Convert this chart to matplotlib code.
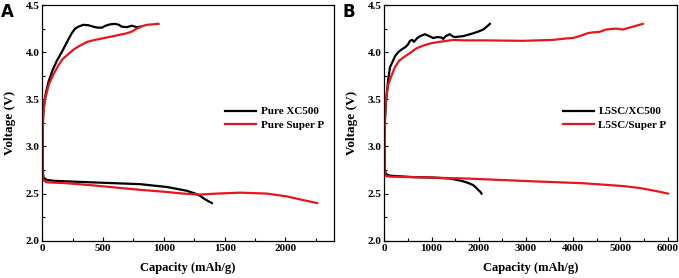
import numpy as np
import matplotlib.pyplot as plt
from matplotlib.ticker import MultipleLocator

plt.rcParams['font.family'] = ['Liberation Serif', 'DejaVu Serif']
plt.rcParams['font.weight'] = 'bold'

# ---- panel A: pure carbons ----
xc_chg_cap = [0, 3, 10, 27, 52, 85, 120, 160, 200, 242, 270, 297, 338, 380, 420, 455, 489,
              520, 558, 599, 630, 654, 695, 736, 778, 805]
xc_chg_v = [2.72, 3.2, 3.4, 3.55, 3.69, 3.81, 3.91, 4.0, 4.1, 4.2, 4.25, 4.27, 4.29, 4.285,
            4.27, 4.26, 4.26, 4.28, 4.295, 4.3, 4.29, 4.27, 4.265, 4.28, 4.265, 4.27]
xc_dis_cap = [0, 3, 10, 36, 100, 393, 805, 1025, 1189, 1258, 1300, 1326, 1365, 1395]
xc_dis_v = [3.05, 2.75, 2.67, 2.645, 2.635, 2.62, 2.60, 2.57, 2.53, 2.50, 2.475, 2.45, 2.42, 2.40]

sp_chg_cap = [0, 3, 10, 22, 55, 90, 132, 170, 214, 260, 311, 370, 434, 510, 585, 640, 695,
              740, 778, 820, 860, 910, 956]
sp_chg_v = [2.68, 3.2, 3.38, 3.5, 3.66, 3.76, 3.86, 3.93, 3.98, 4.03, 4.07, 4.11, 4.13,
            4.15, 4.17, 4.185, 4.2, 4.22, 4.25, 4.275, 4.29, 4.295, 4.3]
sp_dis_cap = [0, 3, 10, 36, 200, 393, 805, 1000, 1161, 1299, 1436, 1629, 1848, 2013, 2150, 2260]
sp_dis_v = [3.05, 2.72, 2.64, 2.62, 2.61, 2.59, 2.54, 2.52, 2.50, 2.49, 2.50, 2.51, 2.50,
            2.47, 2.43, 2.40]

# ---- panel B: L5SC composites ----
lxc_chg_cap = [0, 15, 40, 80, 120, 176, 230, 296, 370, 437, 500, 543, 590, 627, 700, 760,
               860, 950, 1036, 1120, 1212, 1247, 1300, 1388, 1440, 1494, 1580, 1670, 1780,
               1882, 2000, 2093, 2170, 2234]
lxc_chg_v = [3.1, 3.3, 3.5, 3.7, 3.84, 3.9, 3.96, 4.0, 4.03, 4.05, 4.08, 4.12, 4.13, 4.11,
             4.15, 4.17, 4.19, 4.17, 4.15, 4.16, 4.155, 4.14, 4.17, 4.19, 4.17, 4.16,
             4.165, 4.17, 4.185, 4.2, 4.22, 4.24, 4.27, 4.3]
lxc_dis_cap = [0, 10, 30, 120, 600, 1036, 1388, 1540, 1670, 1790, 1882, 1940, 1987, 2030, 2058]
lxc_dis_v = [3.05, 2.76, 2.71, 2.69, 2.675, 2.67, 2.66, 2.645, 2.63, 2.61, 2.59, 2.565,
             2.54, 2.52, 2.50]

lsp_chg_cap = [0, 15, 35, 85, 160, 225, 317, 420, 543, 680, 825, 1000, 1177, 1459, 1700,
               2093, 2939, 3570, 3850, 3993, 4134, 4300, 4415, 4556, 4697, 4908, 5049, 5261,
               5472]
lsp_chg_v = [2.7, 3.3, 3.5, 3.66, 3.76, 3.84, 3.91, 3.95, 3.99, 4.04, 4.07, 4.095, 4.11,
             4.13, 4.125, 4.125, 4.12, 4.13, 4.145, 4.15, 4.17, 4.2, 4.21, 4.215, 4.24,
             4.25, 4.24, 4.27, 4.3]
lsp_dis_cap = [0, 10, 40, 120, 1740, 3150, 4207, 5053, 5400, 5617, 5820, 6004]
lsp_dis_v = [3.05, 2.72, 2.685, 2.68, 2.66, 2.63, 2.61, 2.58, 2.56, 2.54, 2.52, 2.50]

fig = plt.figure(figsize=(6.79, 2.78), dpi=100)
axA = fig.add_axes([0.0623, 0.134, 0.4297, 0.848])
axB = fig.add_axes([0.566, 0.134, 0.4306, 0.848])

lw = 1.6
red = '#e8161b'
axA.plot(xc_chg_cap, xc_chg_v, color='black', lw=lw, label='Pure XC500')
axA.plot(xc_dis_cap, xc_dis_v, color='black', lw=lw)
axA.plot(sp_chg_cap, sp_chg_v, color=red, lw=lw, label='Pure Super P')
axA.plot(sp_dis_cap, sp_dis_v, color=red, lw=lw)

axB.plot(lxc_chg_cap, lxc_chg_v, color='black', lw=lw, label='L5SC/XC500')
axB.plot(lxc_dis_cap, lxc_dis_v, color='black', lw=lw)
axB.plot(lsp_chg_cap, lsp_chg_v, color=red, lw=lw, label='L5SC/Super P')
axB.plot(lsp_dis_cap, lsp_dis_v, color=red, lw=lw)

axA.set_xlim(0, 2400)
axA.xaxis.set_major_locator(MultipleLocator(500))
axA.xaxis.set_minor_locator(MultipleLocator(250))
axB.set_xlim(0, 6190)
axB.xaxis.set_major_locator(MultipleLocator(1000))
axB.xaxis.set_minor_locator(MultipleLocator(500))

for ax, letter, lx in [(axA, 'A', 0.002), (axB, 'B', 0.504)]:
    ax.set_ylim(2.0, 4.5)
    ax.yaxis.set_major_locator(MultipleLocator(0.5))
    ax.yaxis.set_minor_locator(MultipleLocator(0.25))
    ax.yaxis.set_major_formatter(plt.FormatStrFormatter('%.1f'))
    ax.tick_params(which='both', direction='in', labelsize=8, pad=2)
    ax.tick_params(which='major', length=3, width=0.8)
    ax.tick_params(which='minor', length=2, width=0.8)
    for s in ax.spines.values():
        s.set_linewidth(0.9)
    ax.set_xlabel('Capacity (mAh/g)', fontsize=9, fontweight='bold', labelpad=7)
    ax.set_ylabel('Voltage (V)', fontsize=9.5, fontweight='bold', labelpad=7)
    ax.legend(loc='center right', bbox_to_anchor=(1.0, 0.52), frameon=False,
              fontsize=8, handlelength=2.8, handletextpad=0.4, labelspacing=0.3)
    fig.text(lx, 0.99, letter, fontsize=12, fontweight='bold', family='DejaVu Sans',
             va='top', ha='left')

fig.savefig('out.png', dpi=100)
